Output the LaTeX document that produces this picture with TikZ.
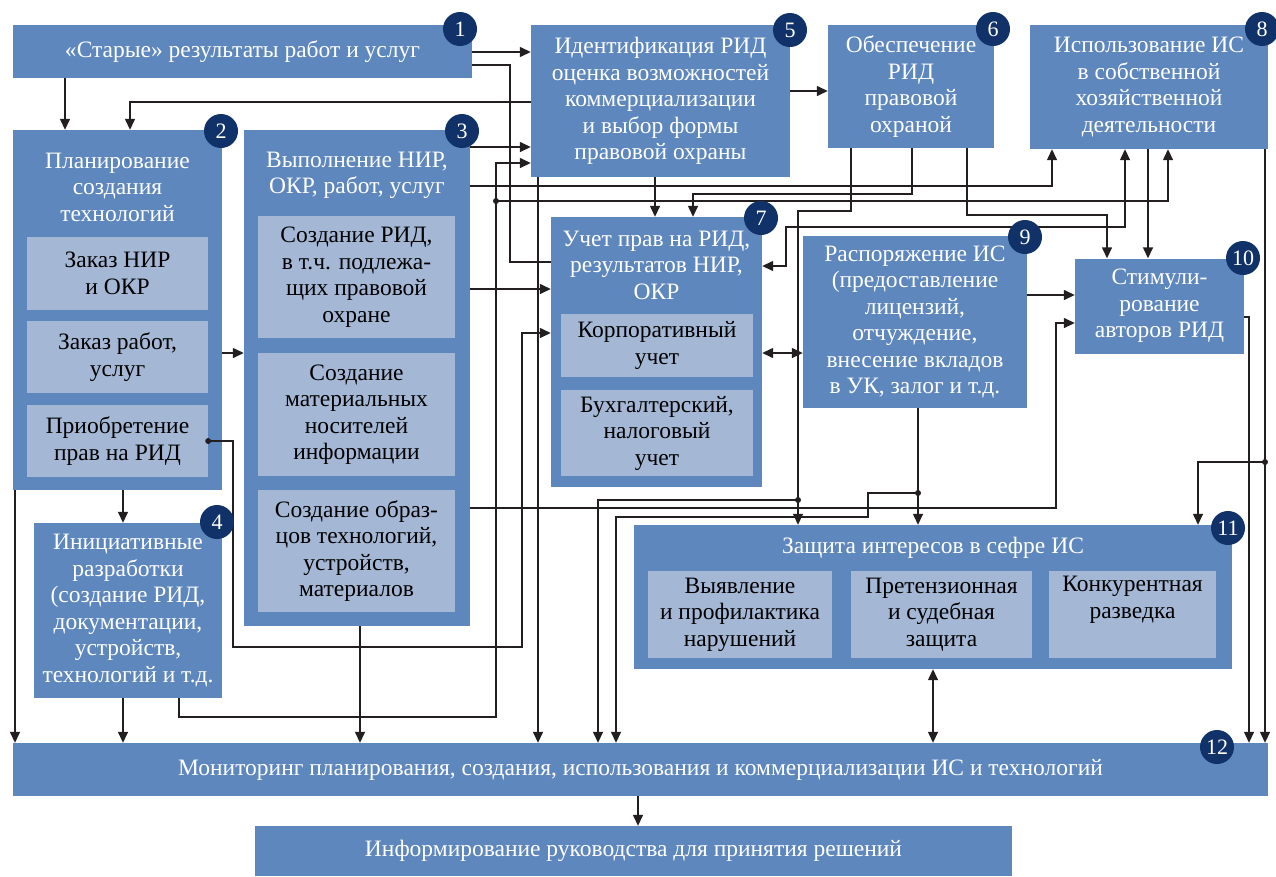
\documentclass[tikz,border=0pt]{standalone}
\usepackage{fontspec}
\setmainfont{Liberation Serif}
\usepackage{tikz}
\usetikzlibrary{arrows.meta,shapes}
\definecolor{boxblue}{RGB}{94,135,189}
\definecolor{paleblue}{RGB}{164,184,214}
\definecolor{darknavy}{RGB}{17,49,105}
\definecolor{linecol}{RGB}{35,31,32}
\tikzstyle{box}=[fill=boxblue,text=white,inner sep=0pt,align=center,font=\fontsize{23.5}{26.5}\selectfont]
\tikzstyle{sub box}=[box,fill=paleblue,text=black]
\tikzstyle{title}=[text=white,inner sep=0pt,align=center,font=\fontsize{23.5}{26.5}\selectfont]
\tikzstyle{number}=[circle,fill=darknavy,text=white,minimum size=34pt,inner sep=0pt,font=\fontsize{22}{22}\selectfont]
\tikzstyle{edge}=[draw=linecol,line width=1.4pt]
\tikzstyle{arrow edge}=[edge,-{Triangle[length=11pt,width=10pt]}]
\tikzstyle{both edge}=[edge,{Triangle[length=11pt,width=10pt]}-{Triangle[length=11pt,width=10pt]}]

\begin{document}
\begin{tikzpicture}[x=1pt,y=-1pt]
    \useasboundingbox (0,0) rectangle (1276,876);
    % First we draw the blocks
    \node[box,minimum width=459pt,minimum height=53pt] (b1) at (242.5,51.5) {«Старые» результаты работ и услуг};

    \node[box,minimum width=209pt,minimum height=360pt] (b2) at (117.5,310) {};
    \node[title] (t2) at (117.5,187) {Планирование\\создания\\технологий};
    \node[sub box,minimum width=181pt,minimum height=73pt] (i21) at (117.5,273.5) {Заказ НИР\\и ОКР};
    \node[sub box,minimum width=181pt,minimum height=72pt] (i22) at (117.5,357) {Заказ работ,\\услуг};
    \node[sub box,minimum width=181pt,minimum height=72pt] (i23) at (117.5,441) {Приобретение\\прав на РИД};

    \node[box,minimum width=226pt,minimum height=496pt] (b3) at (357,378) {};
    \node[title] (t3) at (357,175.5) {Выполнение НИР,\\ОКР, работ, услуг};
    \node[sub box,minimum width=197pt,minimum height=122pt] (i31) at (356.5,277) {Создание РИД,\\в т.ч. подлежа-\\щих правовой\\охране};
    \node[sub box,minimum width=197pt,minimum height=123pt] (i32) at (356.5,414.5) {Создание\\материальных\\носителей\\информации};
    \node[sub box,minimum width=197pt,minimum height=122pt] (i33) at (356.5,551) {Создание образ-\\цов технологий,\\устройств,\\материалов};

    \node[box,minimum width=188pt,minimum height=175pt] (b4) at (128,610.5) {Инициативные\\разработки\\(создание РИД,\\документации,\\устройств,\\технологий и т.д.};
    \node[box,minimum width=259pt,minimum height=152pt] (b5) at (660.5,101) {Идентификация РИД\\оценка возможностей\\коммерциализации\\и выбор формы\\правовой охраны};
    \node[box,minimum width=166pt,minimum height=123pt] (b6) at (911,86.5) {Обеспечение\\РИД\\правовой\\охраной};

    \node[box,minimum width=211pt,minimum height=270pt] (b7) at (656.5,352) {};
    \node[title] (t7) at (656.5,265) {Учет прав на РИД,\\результатов НИР,\\ОКР};
    \node[sub box,minimum width=192pt,minimum height=63pt] (i71) at (657,345.5) {Корпоративный\\учет};
    \node[sub box,minimum width=192pt,minimum height=86pt] (i72) at (657,433) {Бухгалтерский,\\налоговый\\учет};

    \node[box,minimum width=238pt,minimum height=124pt] (b8) at (1149,87) {Использование ИС\\в собственной\\хозяйственной\\деятельности};
    \node[box,minimum width=224pt,minimum height=172pt] (b9) at (915,322) {Распоряжение ИС\\(предоставление\\лицензий,\\отчуждение,\\внесение вкладов\\в УК, залог и т.д.};
    \node[box,minimum width=169pt,minimum height=95pt] (b10) at (1159.5,306) {Стимули-\\рование\\авторов РИД};

    \node[box,minimum width=598pt,minimum height=144pt] (b11) at (933,597) {};
    \node[title] (t11) at (933,548) {Защита интересов в сефре ИС};
    \node[sub box,minimum width=184pt,minimum height=87pt] (i111) at (740,614.5) {Выявление\\и профилактика\\нарушений};
    \node[sub box,minimum width=181pt,minimum height=87pt] (i112) at (941.5,614.5) {Претензионная\\и судебная\\защита};
    \node[sub box,minimum width=167pt,minimum height=87pt] (i113) at (1132.5,614.5) {Конкурентная\\разведка\\\strut};

    \node[box,minimum width=1255pt,minimum height=53pt] (b12) at (640.5,769.5) {Мониторинг планирования, создания, использования и коммерциализации ИС и технологий};
    \node[box,minimum width=757pt,minimum height=50pt] (b13) at (633.5,851) {Информирование руководства для принятия решений};

    % Straight connectors
    \foreach \source/\dest/\x in {b1/b2/65, b2/b4/123, b2/b12/15, b4/b12/123, b3/b12/360, b5/b12/538, b5/b7/655, b8/b10/1148, b8/b12/1265, b9/b11/918, b12/b13/638}
        \path[arrow edge] (\source.south -| \x,0) -- (\dest.north -| \x,0);
    \foreach \source/\dest/\y in {b1/b5/52, b3/b5/147, b5/b6/91, b3/b7/289, b9/b10/295, b2/b3/353}
        \path[arrow edge] (\source.east |- 0,\y) -- (\dest.west |- 0,\y);
    \path[both edge] (b7.east |- 0,353) -- (b9.west |- 0,353);
    \path[both edge] (b11.south -| 933,0) -- (b12.north -| 933,0);

    % Connectors with bends
    \path[edge] (b1.east |- 0,65) -| (510,262) -- (b7.west |- 0,262);
    \path[arrow edge] (b5.west |- 0,102) -| (b2.north -| 130,0);
    \path[arrow edge] (b4.south -| 179,0) |- (496,717) |- (b5.west |- 0,163);
    \coordinate (j4) at (496,201);
    \path[arrow edge] (j4) -| (b8.south -| 1168,0);
    \path[arrow edge] (b3.east |- 0,186) -| (b8.south -| 1052,0);
    \path[arrow edge] (b6.south -| 912,0) |- (693,194) -- (b7.north -| 693,0);
    \path[arrow edge] (b6.south -| 851,0) |- (798,211) -- (b11.north -| 798,0);
    \coordinate (j6) at (798,500);
    \path[arrow edge] (j6) -| (b12.north -| 598,0);
    \path[arrow edge] (b6.south -| 967,0) |- (1107,215) -- (b10.north -| 1107,0);
    \path[both edge] (b7.east |- 0,266) -| (786,227) -| (b8.south -| 1125,0);
    \path[arrow edge] (b3.east |- 0,508) -| (1056,323) -- (b10.west |- 0,323);
    \path[arrow edge] (b10.east |- 0,317) -| (b12.north -| 1249,0);
    \coordinate (j8) at (1265,462);
    \path[arrow edge] (j8) -| (b11.north -| 1198,0);
    \coordinate (j9) at (918,493);
    \path[arrow edge] (j9) -| (868,517) -| (b12.north -| 616,0);
    \coordinate (j2) at (i23.east |- 0,441);
    \path[arrow edge] (j2) -| (233,647) -| (522,333) -- (b7.west |- 0,333);
    \foreach \name in {j2, j4, j6, j8, j9}
        \fill[linecol] (\name) circle (3pt);

    % Numbers on top
    \foreach \pos/\name in {{(460,29)/1}, {(221,131)/2}, {(462,131)/3}, {(217,522)/4}, {(790,30)/5}, {(993,29)/6}, {(761,218)/7}, {(1262,29)/8}, {(1025,237)/9}, {(1243,258)/10}, {(1228,528)/11}, {(1217,747)/12}}
        \node[number] (n\name) at \pos {\name};
\end{tikzpicture}
\end{document}
